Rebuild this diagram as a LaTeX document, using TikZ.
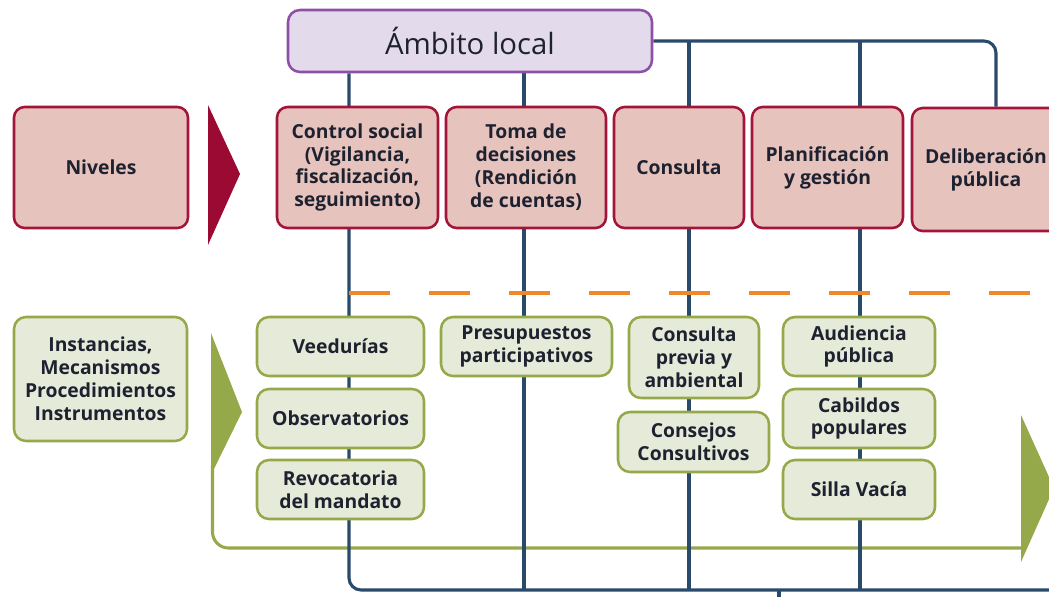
\documentclass[tikz,border=0pt]{standalone}
\usepackage{fontspec}
\setmainfont{Open Sans}
\usetikzlibrary{backgrounds}
\definecolor{purplefill}{HTML}{E3DAEC}
\definecolor{purpleline}{HTML}{8E4FA6}
\definecolor{redfill}{HTML}{E6C3BC}
\definecolor{redline}{HTML}{A3143A}
\definecolor{redtri}{HTML}{9A0A32}
\definecolor{greenfill}{HTML}{E6EAD8}
\definecolor{greenline}{HTML}{96A94A}
\definecolor{navy}{HTML}{2A4A6C}
\definecolor{orangedash}{HTML}{F0872A}
\definecolor{textc}{HTML}{1E2230}

\begin{document}
\begin{tikzpicture}[x=0.75pt,y=-0.75pt]
\tikzstyle{lvl}=[rectangle, draw=redline, fill=redfill, line width=1.9pt, rounded corners=8pt, align=center, text=textc, font=\bfseries\fontsize{14.5}{17.2}\selectfont]
\tikzstyle{inst}=[rectangle, draw=greenline, fill=greenfill, line width=1.9pt, rounded corners=9pt, align=center, text=textc, font=\bfseries\fontsize{14.5}{17.2}\selectfont]
\tikzstyle{navyline}=[draw=navy, line width=2.3pt, rounded corners=9pt]

\useasboundingbox (0,0) rectangle (1049,596);
\clip (0,0) rectangle (1049,596);

    \node[rectangle, draw=purpleline, fill=purplefill, line width=1.9pt, rounded corners=9pt,
    minimum width=273pt, minimum height=46.5pt, text=textc,
    font=\fontsize{22}{26}\selectfont] (ambito) at (470,41) {Ámbito local};

\node[lvl, minimum width=130.5pt, minimum height=90.75pt] (niveles) at (101,167.5) {Niveles};
\node[lvl, minimum width=120.75pt, minimum height=90.75pt] (control) at (357.5,167.5) {Control social\\(Vigilancia,\\fiscalización,\\seguimiento)};
\node[lvl, minimum width=120pt, minimum height=90.75pt] (toma) at (526,167.5) {Toma de\\decisiones\\(Rendición\\de cuentas)};
\node[lvl, minimum width=97.5pt, minimum height=90.75pt] (consulta) at (679,167.5) {Consulta};
\node[lvl, minimum width=113.25pt, minimum height=90.75pt] (planif) at (827.5,167.5) {Planificación\\y gestión};
\node[lvl, minimum width=111pt, minimum height=92.25pt] (delib) at (986,169.5) {Deliberación\\pública};

\node[inst, minimum width=129.75pt, minimum height=93pt] (instancias) at (100.5,379) {Instancias,\\Mecanismos\\Procedimientos\\Instrumentos};
\node[inst, minimum width=125.25pt, minimum height=44.25pt] (veed) at (340.5,346.5) {Veedurías};
\node[inst, minimum width=125.25pt, minimum height=44.25pt] (observ) at (340.5,418.5) {Observatorios};
\node[inst, minimum width=125.25pt, minimum height=44.25pt] (revoc) at (340.5,489.5) {Revocatoria\\del mandato};
\node[inst, minimum width=128.25pt, minimum height=44.25pt] (presup) at (526.5,346.5) {Presupuestos\\participativos};
\node[inst, minimum width=97.5pt, minimum height=60.75pt] (cprevia) at (694,357.5) {Consulta\\previa y\\ambiental};
\node[inst, minimum width=113.25pt, minimum height=45pt] (consejos) at (693.5,442) {Consejos\\Consultivos};
\node[inst, minimum width=114pt, minimum height=44.25pt] (audiencia) at (859,346.5) {Audiencia\\pública};
\node[inst, minimum width=114pt, minimum height=44.25pt] (cabildos) at (859,418.5) {Cabildos\\populares};
\node[inst, minimum width=114pt, minimum height=44.25pt] (silla) at (859,489.5) {Silla Vacía};

\coordinate (b1) at (349,590);
\coordinate (b2) at (524,590);
\coordinate (b3) at (689,590);
\coordinate (b4) at (860,590);
\coordinate (bend) at (1060,590);
\coordinate (t3) at (689,41);
\coordinate (t4) at (860,41);
\coordinate (t5) at (996,41);
\coordinate (low) at (779,605);
\coordinate (g1) at (212.5,465);
\coordinate (g2) at (212.5,548);
\coordinate (g3) at (1024,548);
\coordinate (d1) at (349,293);
\coordinate (d2) at (1060,293);

\begin{scope}[on background layer]
\fill[redtri] (208,105) -- (240,174) -- (208,245) -- cycle;
\fill[greenline] (211,333) -- (242,412) -- (211,475) -- cycle;
\fill[greenline] (1021,415) -- (1054,488) -- (1021,562) -- cycle;
\draw[draw=greenline, line width=2.3pt, rounded corners=12pt] (g1) -- (g2) -- (g3);
\draw[navyline] (ambito.south -| b1) -- (b1) -- (bend);
\draw[navyline] (ambito.south -| b2) -- (b2);
\draw[navyline] (ambito.east) -- (t5) -- (delib.north -| t5);
\draw[navyline] (t3) -- (b3);
\draw[navyline] (t4) -- (b4);
\draw[navyline] (b1 -| low) -- (low);
\draw[draw=orangedash, line width=2.3pt, dash pattern=on 31pt off 29pt] (d1) -- (d2);
\end{scope}
\end{tikzpicture}
\end{document}
